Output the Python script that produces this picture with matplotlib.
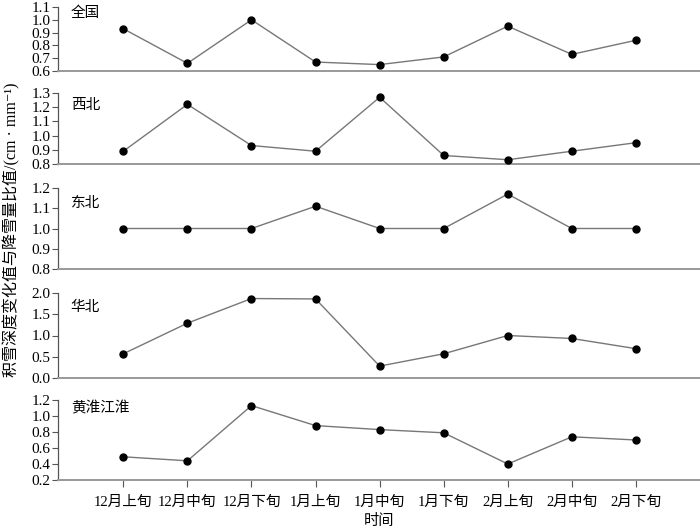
import matplotlib
matplotlib.use("Agg")
import matplotlib.pyplot as plt
import numpy as np

plt.rcParams['font.family'] = ['Liberation Serif', 'Noto Sans CJK SC', 'DejaVu Sans']
plt.rcParams['axes.unicode_minus'] = False

periods = ["12月上旬", "12月中旬", "12月下旬", "1月上旬", "1月中旬", "1月下旬", "2月上旬", "2月中旬", "2月下旬"]
regions = ["全国", "西北", "东北", "华北", "黄淮江淮"]

quanguo = [0.93, 0.66, 1.00, 0.67, 0.65, 0.71, 0.95, 0.73, 0.84]
xibei = [0.89, 1.22, 0.93, 0.89, 1.27, 0.86, 0.83, 0.89, 0.95]
dongbei = [1.00, 1.00, 1.00, 1.11, 1.00, 1.00, 1.17, 1.00, 1.00]
huabei = [0.57, 1.29, 1.87, 1.86, 0.28, 0.57, 1.00, 0.93, 0.69]
huanghuai = [0.49, 0.44, 1.13, 0.88, 0.83, 0.79, 0.40, 0.74, 0.70]
series = [quanguo, xibei, dongbei, huabei, huanghuai]

yticks = [
    [0.6, 0.7, 0.8, 0.9, 1.0, 1.1],
    [0.8, 0.9, 1.0, 1.1, 1.2, 1.3],
    [0.8, 0.9, 1.0, 1.1, 1.2],
    [0.0, 0.5, 1.0, 1.5, 2.0],
    [0.2, 0.4, 0.6, 0.8, 1.0, 1.2],
]

W, H = 700, 527
fig = plt.figure(figsize=(7.0, 5.27), dpi=100)

# pixel positions (top, bottom) of each panel
panels_px = [(7, 71), (93, 164), (188, 269), (293, 378), (400, 480)]
label_y = [0.91, 0.83, 0.81, 0.84, 0.90]
left_px = 58

x = np.arange(len(periods))
for i, (top, bot) in enumerate(panels_px):
    ax = fig.add_axes([left_px / W, 1 - bot / H, (W - left_px) / W, (bot - top) / H])
    ax.plot(x, series[i], color='#777777', lw=1.0, marker='o', ms=5,
            mfc='black', mec='black', zorder=3)
    ax.set_xlim(-1.02, 9.0)
    yt = yticks[i]
    ax.set_ylim(yt[0], yt[-1])
    ax.set_yticks(yt)
    ax.set_yticklabels([f"{v:.1f}" for v in yt])
    ax.spines['top'].set_visible(False)
    ax.spines['right'].set_visible(False)
    ax.spines['bottom'].set_color('#999999')
    ax.spines['bottom'].set_linewidth(1.4)
    ax.spines['left'].set_color('#555555')
    ax.spines['left'].set_linewidth(0.9)
    ax.tick_params(axis='y', direction='out', length=4, width=0.8, color='#555555',
                   labelsize=11, pad=1.5)
    ax.text(0.02, label_y[i], regions[i], transform=ax.transAxes, ha='left', va='center',
            fontsize=10.5, family=['Noto Sans CJK SC'])
    if i < len(panels_px) - 1:
        ax.set_xticks([])
    else:
        ax.set_xticks(x)
        ax.set_xticklabels(periods)
        ax.tick_params(axis='x', direction='out', length=5, width=0.8, color='#555555',
                       labelsize=10.5, pad=6)
        ax.set_xlabel("时间", fontsize=11, labelpad=4)

fig.text(12 / W, 1 - 230 / H, "积雪深度变化值与降雪量比值/(cm · mm⁻¹)", rotation=90,
         ha='center', va='center', fontsize=11.5,
         family=['Liberation Serif', 'Noto Sans CJK SC', 'DejaVu Sans'])

fig.savefig("out.png", dpi=100)
